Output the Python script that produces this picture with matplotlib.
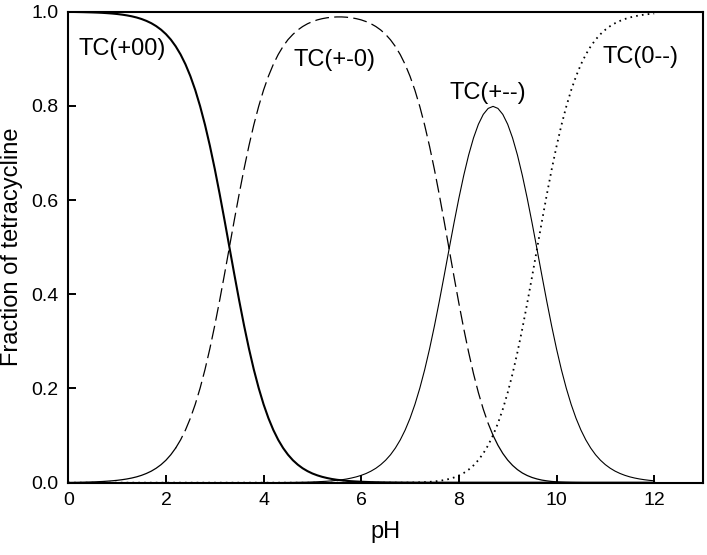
import matplotlib
matplotlib.use("Agg")
import matplotlib.pyplot as plt
import numpy as np

plt.rcParams['font.family'] = ['Liberation Sans', 'DejaVu Sans']
plt.rcParams['lines.scale_dashes'] = False

ph = [0.0, 0.1, 0.2, 0.3, 0.4, 0.5, 0.6, 0.7, 0.8, 0.9,
      1.0, 1.1, 1.2, 1.3, 1.4, 1.5, 1.6, 1.7, 1.8, 1.9,
      2.0, 2.1, 2.2, 2.3, 2.4, 2.5, 2.6, 2.7, 2.8, 2.9,
      3.0, 3.1, 3.2, 3.3, 3.4, 3.5, 3.6, 3.7, 3.8, 3.9,
      4.0, 4.1, 4.2, 4.3, 4.4, 4.5, 4.6, 4.7, 4.8, 4.9,
      5.0, 5.1, 5.2, 5.3, 5.4, 5.5, 5.6, 5.7, 5.8, 5.9,
      6.0, 6.1, 6.2, 6.3, 6.4, 6.5, 6.6, 6.7, 6.8, 6.9,
      7.0, 7.1, 7.2, 7.3, 7.4, 7.5, 7.6, 7.7, 7.8, 7.9,
      8.0, 8.1, 8.2, 8.3, 8.4, 8.5, 8.6, 8.7, 8.8, 8.9,
      9.0, 9.1, 9.2, 9.3, 9.4, 9.5, 9.6, 9.7, 9.8, 9.9,
      10.0, 10.1, 10.2, 10.3, 10.4, 10.5, 10.6, 10.7, 10.8, 10.9,
      11.0, 11.1, 11.2, 11.3, 11.4, 11.5, 11.6, 11.7, 11.8, 11.9,
      12.0]

tc_p00 = [0.9995, 0.9994, 0.9992, 0.9990, 0.9987, 0.9984, 0.9980, 0.9975, 0.9968, 0.9960,
          0.9950, 0.9937, 0.9921, 0.9901, 0.9876, 0.9844, 0.9804, 0.9755, 0.9693, 0.9617,
          0.9523, 0.9407, 0.9264, 0.9091, 0.8882, 0.8632, 0.8337, 0.7992, 0.7598, 0.7153,
          0.6662, 0.6131, 0.5573, 0.5000, 0.4427, 0.3869, 0.3338, 0.2847, 0.2402, 0.2008,
          0.1663, 0.1368, 0.1118, 0.0909, 0.0736, 0.0594, 0.0477, 0.0383, 0.0306, 0.0245,
          0.0195, 0.0156, 0.0124, 0.0099, 0.0078, 0.0062, 0.0050, 0.0039, 0.0031, 0.0025,
          0.0020, 0.0016, 0.0012, 0.0010, 0.0008, 0.0006, 0.0005, 0.0004, 0.0003, 0.0002,
          0.0002, 0.0001, 0.0001, 0.0001, 0, 0, 0, 0, 0, 0,
          0, 0, 0, 0, 0, 0, 0, 0, 0, 0,
          0, 0, 0, 0, 0, 0, 0, 0, 0, 0,
          0, 0, 0, 0, 0, 0, 0, 0, 0, 0,
          0, 0, 0, 0, 0, 0, 0, 0, 0, 0,
          0]

tc_pm0 = [0.0005, 0.0006, 0.0008, 0.0010, 0.0013, 0.0016, 0.0020, 0.0025, 0.0032, 0.0040,
          0.0050, 0.0063, 0.0079, 0.0099, 0.0124, 0.0156, 0.0196, 0.0245, 0.0307, 0.0383,
          0.0477, 0.0594, 0.0736, 0.0909, 0.1118, 0.1368, 0.1663, 0.2008, 0.2402, 0.2847,
          0.3339, 0.3869, 0.4427, 0.5000, 0.5573, 0.6131, 0.6662, 0.7153, 0.7598, 0.7992,
          0.8337, 0.8632, 0.8882, 0.9091, 0.9264, 0.9406, 0.9517, 0.9610, 0.9684, 0.9743,
          0.9789, 0.9825, 0.9851, 0.9870, 0.9882, 0.9888, 0.9888, 0.9882, 0.9870, 0.9851,
          0.9825, 0.9789, 0.9743, 0.9684, 0.9610, 0.9517, 0.9401, 0.9260, 0.9087, 0.8878,
          0.8627, 0.8331, 0.7985, 0.7588, 0.7139, 0.6644, 0.6108, 0.5542, 0.4961, 0.4378,
          0.3810, 0.3270, 0.2769, 0.2314, 0.1911, 0.1560, 0.1259, 0.1006, 0.0795, 0.0621,
          0.0480, 0.0367, 0.0277, 0.0206, 0.0152, 0.0110, 0.0079, 0.0055, 0.0039, 0.0026,
          0.0018, 0.0012, 0.0008, 0.0005, 0.0003, 0.0002, 0.0001, 0.0001, 0.0001, 0,
          0, 0, 0, 0, 0, 0, 0, 0, 0, 0,
          0]

tc_pmm = [0, 0, 0, 0, 0, 0, 0, 0, 0, 0,
          0, 0, 0, 0, 0, 0, 0, 0, 0, 0,
          0, 0, 0, 0, 0, 0, 0, 0, 0, 0,
          0, 0, 0, 0, 0, 0, 0, 0, 0.0001, 0.0001,
          0.0001, 0.0002, 0.0002, 0.0003, 0.0004, 0.0005, 0.0006, 0.0008, 0.0010, 0.0012,
          0.0016, 0.0020, 0.0025, 0.0031, 0.0039, 0.0050, 0.0062, 0.0078, 0.0099, 0.0124,
          0.0156, 0.0195, 0.0245, 0.0306, 0.0383, 0.0477, 0.0593, 0.0736, 0.0909, 0.1118,
          0.1367, 0.1662, 0.2006, 0.2399, 0.2842, 0.3330, 0.3854, 0.4402, 0.4961, 0.5512,
          0.6038, 0.6524, 0.6955, 0.7319, 0.7609, 0.7819, 0.7946, 0.7989, 0.7946, 0.7819,
          0.7609, 0.7319, 0.6955, 0.6524, 0.6038, 0.5512, 0.4961, 0.4402, 0.3854, 0.3330,
          0.2842, 0.2399, 0.2006, 0.1662, 0.1367, 0.1118, 0.0909, 0.0736, 0.0593, 0.0477,
          0.0383, 0.0307, 0.0245, 0.0196, 0.0156, 0.0124, 0.0099, 0.0079, 0.0063, 0.0050,
          0.0040]

tc_0mm = [0, 0, 0, 0, 0, 0, 0, 0, 0, 0,
          0, 0, 0, 0, 0, 0, 0, 0, 0, 0,
          0, 0, 0, 0, 0, 0, 0, 0, 0, 0,
          0, 0, 0, 0, 0, 0, 0, 0, 0, 0,
          0, 0, 0, 0, 0, 0, 0, 0, 0, 0,
          0, 0, 0, 0, 0, 0, 0, 0, 0, 0,
          0, 0, 0, 0, 0, 0, 0.0001, 0.0001, 0.0001, 0.0002,
          0.0003, 0.0005, 0.0008, 0.0012, 0.0018, 0.0026, 0.0039, 0.0055, 0.0079, 0.0110,
          0.0152, 0.0206, 0.0277, 0.0367, 0.0480, 0.0621, 0.0795, 0.1006, 0.1259, 0.1560,
          0.1911, 0.2314, 0.2769, 0.3270, 0.3810, 0.4378, 0.4961, 0.5542, 0.6108, 0.6644,
          0.7139, 0.7588, 0.7985, 0.8332, 0.8627, 0.8880, 0.9089, 0.9263, 0.9406, 0.9522,
          0.9616, 0.9694, 0.9755, 0.9804, 0.9844, 0.9876, 0.9901, 0.9921, 0.9937, 0.9950,
          0.9960]

species_labels = ["TC(+00)", "TC(+-0)", "TC(+--)", "TC(0--)"]
label_pos = [(1.11, 0.92), (5.45, 0.897), (8.6, 0.827), (11.72, 0.904)]

xticks = [0, 2, 4, 6, 8, 10, 12]
yticks = [0.0, 0.2, 0.4, 0.6, 0.8, 1.0]

fig = plt.figure(figsize=(7.07, 5.55), dpi=100)
ax = fig.add_axes([0.0966, 0.1303, 0.8977, 0.8487])

x = np.array(ph)
# TC(+00): thick solid
ax.plot(x, tc_p00, color='black', lw=1.5, solid_joinstyle='round')

# TC(+-0): dashed in the steep part, solid near the baseline
pm0 = np.array(tc_pm0)
mid = (x >= 2.2) & (x <= 8.7)
left = x <= 2.2
right = x >= 8.7
ax.plot(x[mid], pm0[mid], color='black', lw=0.9, dashes=(10, 3.8))
ax.plot(x[left], pm0[left], color='black', lw=0.9)
ax.plot(x[right], pm0[right], color='black', lw=0.9)

# TC(+--): thin solid
ax.plot(x, tc_pmm, color='black', lw=0.8)

# TC(0--): dotted
ax.plot(x, tc_0mm, color='black', lw=1.3, dashes=(1.2, 3.0))

for lab, (lx, ly) in zip(species_labels, label_pos):
    ax.text(lx, ly, lab, fontsize=17, ha='center', va='center')

ax.set_xlim(0, 13)
ax.set_ylim(0, 1.0)
ax.set_xticks(xticks)
ax.set_xticklabels([str(t) for t in xticks])
ax.set_yticks(yticks)
ax.set_yticklabels([f"{t:.1f}" for t in yticks])
ax.tick_params(direction='in', length=6, width=1.4, labelsize=14, pad=7)
for s in ax.spines.values():
    s.set_linewidth(1.5)

ax.set_xlabel("pH", fontsize=17, va='center')
ax.xaxis.set_label_coords(0.5, -0.104)
ax.set_ylabel("Fraction of tetracycline", fontsize=17, va='center')
ax.yaxis.set_label_coords(-0.088, 0.5)

fig.savefig("out.png", dpi=100)
